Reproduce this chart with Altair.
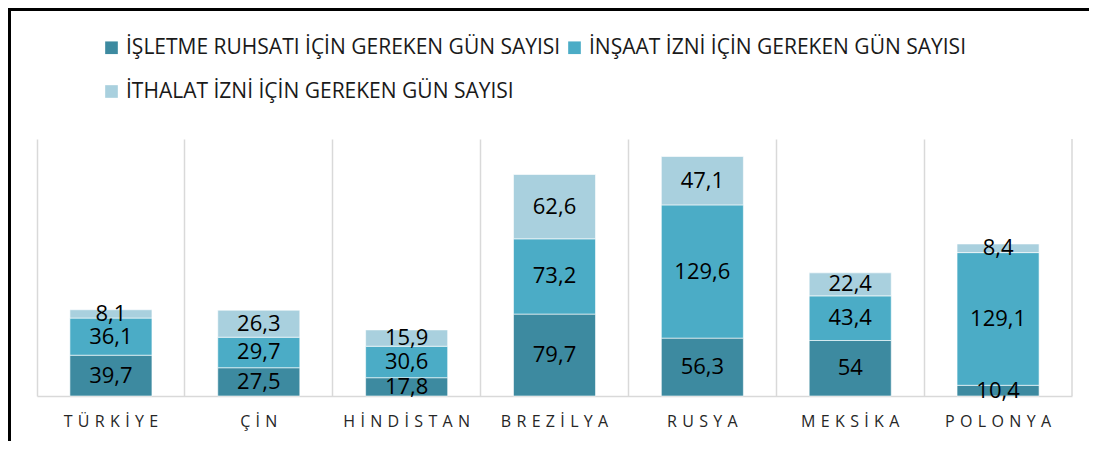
import altair as alt
import pandas as pd

countries = ["TÜRKİYE", "ÇİN", "HİNDİSTAN", "BREZİLYA", "RUSYA", "MEKSİKA", "POLONYA"]
series = [
    "İŞLETME RUHSATI İÇİN GEREKEN GÜN SAYISI",
    "İNŞAAT İZNİ İÇİN GEREKEN GÜN SAYISI",
    "İTHALAT İZNİ İÇİN GEREKEN GÜN SAYISI",
]
isletme = [39.7, 27.5, 17.8, 79.7, 56.3, 54, 10.4]
insaat = [36.1, 29.7, 30.6, 73.2, 129.6, 43.4, 129.1]
ithalat = [8.1, 26.3, 15.9, 62.6, 47.1, 22.4, 8.4]
colors = ["#3D8AA0", "#4BACC6", "#A9D0DE"]

rows = []
for i, c in enumerate(countries):
    for j, (s, vals) in enumerate(zip(series, [isletme, insaat, ithalat])):
        rows.append({"country": c, "series": s, "order": j, "value": vals[i]})
df = pd.DataFrame(rows)

W = 1035
H = 257
PL, PT, PR, PB = 29, 131, 17, 45

x_enc = alt.X(
    "country:N",
    sort=countries,
    scale=alt.Scale(paddingInner=0, paddingOuter=0),
    axis=alt.Axis(
        title=None, grid=True, bandPosition=0, gridColor="#D9D9D9", gridWidth=1.5,
        domainColor="#D9D9D9", domainWidth=1.5, ticks=False,
        labelFont="Open Sans", labelFontSize=16, labelColor="#262626",
        labelPadding=17, labelAngle=0,
        labelExpr="join(split(datum.label,''),'\u2004')",
    ),
)
y_scale = alt.Scale(domain=[0, 250], nice=False, zero=True)

base = alt.Chart(df).transform_stack(
    stack="value", groupby=["country"],
    sort=[alt.SortField("order", order="ascending")], as_=["y0", "y1"],
).transform_calculate(
    mid="(datum.y0 + datum.y1) / 2",
    lbl="replace(toString(datum.value), '.', ',')",
)

bars = base.mark_bar(
    width=alt.RelativeBandSize(0.555), stroke="white", strokeWidth=1, strokeOpacity=0.6
).encode(
    x=x_enc,
    y=alt.Y("y0:Q", scale=y_scale, axis=None),
    y2="y1:Q",
    color=alt.Color(
        "series:N",
        scale=alt.Scale(domain=series, range=colors),
        legend=alt.Legend(
            title=None, orient="none", legendX=64, legendY=-102,
            direction="horizontal", columns=2, columnPadding=3, rowPadding=22,
            symbolType="square", symbolSize=160, symbolStrokeWidth=0,
            labelFont="Open Sans", labelFontSize=21, labelColor="#1A1A1A",
            labelOffset=4, labelLimit=0,
        ),
    ),
)

text = base.mark_text(font="Open Sans", fontSize=22, color="black").encode(
    x=x_enc,
    y=alt.Y("mid:Q", scale=y_scale, axis=None),
    text="lbl:N",
)

one = pd.DataFrame({"a": [0]})
right_grid = alt.Chart(one).mark_rule(color="#D9D9D9", strokeWidth=1.5).encode(
    x=alt.value(W), y=alt.value(0), y2=alt.value(H)
)
left_border = alt.Chart(one).mark_rule(color="black", strokeWidth=3).encode(
    x=alt.value(-PL + 1.5), y=alt.value(-PT), y2=alt.value(H + PB)
)
top_border = alt.Chart(one).mark_rule(color="black", strokeWidth=3).encode(
    y=alt.value(-PT + 1.5), x=alt.value(-PL), x2=alt.value(W + PR)
)

chart = alt.layer(bars, text, right_grid, left_border, top_border).properties(
    width=W, height=H,
    padding={"left": PL, "top": PT, "right": PR, "bottom": PB},
    autosize=alt.AutoSizeParams(type="none"),
).configure_view(stroke=None)

chart.save("out.html", embed_options={"renderer": "svg", "actions": False})
